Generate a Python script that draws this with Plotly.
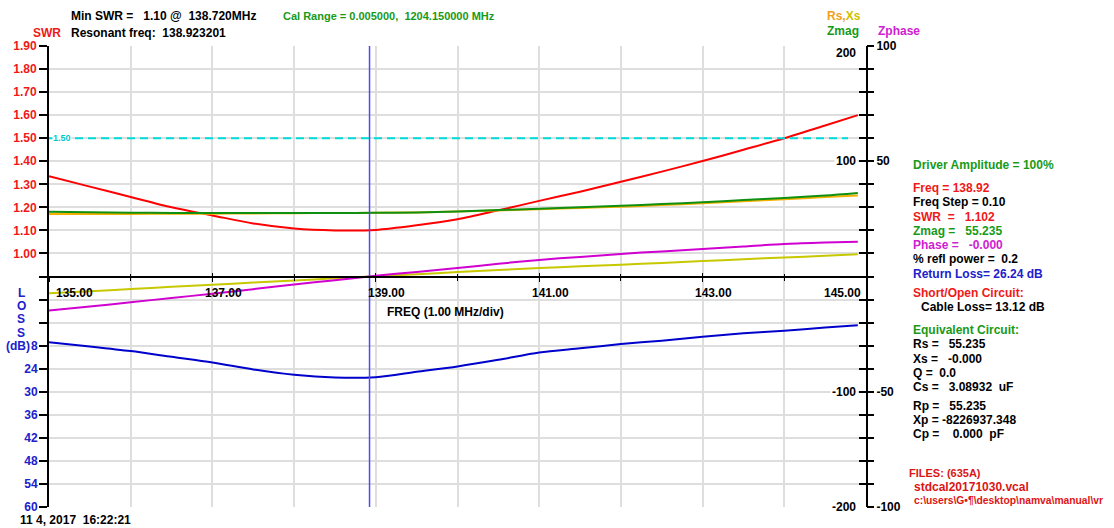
import plotly.graph_objects as go

# ---- sweep data (MHz) ----
FREQ = [135.0, 135.5, 136.0, 136.5, 137.0, 137.5, 138.0, 138.5, 139.0, 139.5, 140.0,
        140.5, 141.0, 141.5, 142.0, 142.5, 143.0, 143.5, 144.0, 144.5, 144.9]
SWR = [1.335, 1.290, 1.245, 1.200, 1.165, 1.130, 1.108, 1.100, 1.102, 1.122, 1.148,
       1.187, 1.228, 1.268, 1.311, 1.355, 1.401, 1.450, 1.500, 1.555, 1.600]
ZMAG = [56.2, 55.8, 55.4, 55.2, 55.0, 55.0, 55.0, 55.1, 55.3, 55.6, 56.5,
        57.6, 58.8, 60.0, 61.3, 62.8, 64.5, 66.3, 68.2, 70.3, 72.5]
RS = [54.2, 54.3, 54.3, 54.4, 54.5, 54.7, 54.9, 55.1, 55.3, 55.6, 56.3,
      57.3, 58.4, 59.5, 60.6, 62.0, 63.6, 65.3, 67.0, 68.9, 70.3]
XS = [-14.6, -12.8, -10.9, -9.0, -7.2, -5.3, -3.4, -1.6, 0.3, 2.0, 3.8,
      5.6, 7.3, 8.8, 10.2, 11.8, 13.4, 15.0, 16.5, 18.0, 19.3]
PHASE = [-14.8, -13.0, -11.2, -9.3, -7.5, -5.5, -3.5, -1.6, 0.3, 2.0, 3.7,
         5.5, 7.2, 8.5, 9.8, 10.9, 11.9, 13.0, 14.1, 14.7, 15.1]
RET_LOSS = [17.1, 18.2, 19.4, 20.9, 22.4, 24.2, 25.6, 26.3, 26.2, 24.8, 23.4,
            21.7, 19.8, 18.7, 17.6, 16.7, 15.7, 14.8, 14.1, 13.3, 12.7]

RES_FREQ = 138.923201
SWR_LIMIT = 1.50

# ---- axis scales and labels ----
FREQ_RANGE = [135.0, 145.0]
SWR_RANGE = [-0.1, 1.9]
LOSS_RANGE = [60, -60]
RX_RANGE = [-200, 200]
PHASE_RANGE = [-100, 100]
SWR_LABELS = [1.00, 1.10, 1.20, 1.30, 1.40, 1.50, 1.60, 1.70, 1.80, 1.90]
LOSS_TICKS = [18, 24, 30, 36, 42, 48, 54, 60]
LOSS_TICKTEXT = ["8", "24", "30", "36", "42", "48", "54", "60"]
FREQ_LABELS = [135, 137, 139, 141, 143, 145]
RX_LABELS = [200, 100, -100, -200]
PHASE_LABELS = [100, 50, -50, -100]

W, H = 1114, 528
L, R, T, B = 49, 866, 46, 507
FONT = "Liberation Sans, Arial, sans-serif"
GRID = "#dedede"
RED, GREEN, BLUE, MAGENTA = "#f01818", "#189a18", "#2020cc", "#d020d0"
NB = "\u00a0"


def px(x):
    return (x - L) / (R - L)


def py(y):
    return (B - y) / (B - T)


def fnt(color="black", size=12):
    return dict(family=FONT, size=size, color=color, weight="bold")


def note(x, y, text, color="black", size=12, xanchor="left"):
    return dict(xref="paper", yref="paper", x=px(x), y=py(y), text=text.replace("  ", NB + NB),
                showarrow=False, xanchor=xanchor, yanchor="middle", font=fnt(color, size),
                borderpad=0)


def curve(y, color, axis, name):
    return go.Scatter(x=FREQ, y=y, mode="lines", yaxis=axis, name=name,
                      line=dict(color=color, width=2, shape="spline", smoothing=0.8))


fig = go.Figure()
fig.add_trace(curve(SWR, "#ff0000", "y", "SWR"))
fig.add_trace(curve(RS, "#f5b000", "y3", "Rs"))
fig.add_trace(curve(ZMAG, "#109010", "y3", "Zmag"))
fig.add_trace(curve(XS, "#c8c800", "y3", "Xs"))
fig.add_trace(curve(PHASE, "#d000d0", "y4", "Zphase"))
fig.add_trace(curve(RET_LOSS, "#0000cc", "y2", "Return Loss"))
# resonant frequency marker
fig.add_trace(go.Scatter(x=[RES_FREQ, RES_FREQ], y=SWR_RANGE, mode="lines",
                         line=dict(color="#4a4aff", width=1.5), xaxis="x2", yaxis="y",
                         name="Resonant"))

swr_tickvals = [round(SWR_RANGE[0] + 0.1 * i, 2) for i in range(21)]
swr_ticktext = [f"{v:.2f}" if any(abs(v - s) < 1e-9 for s in SWR_LABELS) else "" for v in swr_tickvals]
phase_tickvals = [-100 + 10 * i for i in range(21)]

xcommon = dict(range=FREQ_RANGE, anchor="free", position=0.5, tick0=135, dtick=2,
               showticklabels=False, zeroline=False, tickcolor="black", tickwidth=1)

fig.update_layout(
    width=W, height=H, template="none", showlegend=False,
    paper_bgcolor="white", plot_bgcolor="white",
    margin=dict(l=L, r=W - R, t=T, b=H - B, pad=0),
    font=dict(family=FONT, size=12, color="black"),
    xaxis=dict(domain=[0, 1], showline=True, linecolor="black", linewidth=2,
               ticks="outside", ticklen=4,
               minor=dict(dtick=1, ticks="outside", ticklen=3, tickcolor="black", showgrid=True,
                          gridcolor=GRID, gridwidth=1.5),
               showgrid=True, gridcolor=GRID, gridwidth=1.5, **xcommon),
    xaxis2=dict(overlaying="x", showline=False, showgrid=False, ticks="inside", ticklen=4,
                minor=dict(dtick=1, ticks="inside", ticklen=3, tickcolor="black"),
                **xcommon),
    yaxis=dict(domain=[0, 1], range=SWR_RANGE, anchor="x", side="left",
               tickmode="array", tickvals=swr_tickvals, ticktext=swr_ticktext,
               ticks="outside", ticklen=8, tickwidth=2, tickcolor="black",
               showline=True, linecolor="black", linewidth=2,
               showgrid=True, gridcolor=GRID, gridwidth=1.5, zeroline=False,
               tickfont=fnt(RED)),
    yaxis2=dict(overlaying="y", range=LOSS_RANGE, anchor="x", side="left",
                tickmode="array", tickvals=LOSS_TICKS, ticktext=LOSS_TICKTEXT,
                ticks="outside", ticklen=8, tickcolor="rgba(0,0,0,0)",
                showline=False, showgrid=False, zeroline=False, tickfont=fnt(BLUE)),
    yaxis3=dict(overlaying="y", range=RX_RANGE, anchor="x", side="right",
                tickmode="linear", tick0=-200, dtick=20,
                ticks="inside", ticklen=7, tickwidth=2, tickcolor="black",
                showticklabels=False, showline=True, linecolor="black", linewidth=2,
                showgrid=False, zeroline=False),
    yaxis4=dict(overlaying="y", range=PHASE_RANGE, anchor="x", side="right",
                tickmode="array", tickvals=phase_tickvals,
                ticktext=[str(v) if v in PHASE_LABELS else "" for v in phase_tickvals],
                ticks="outside", ticklen=7, tickwidth=2, tickcolor="black",
                showline=False, showgrid=False, zeroline=False, tickfont=fnt()),
)

# SWR limit line
fig.add_shape(type="line", xref="paper", yref="y", x0=0, x1=px(848), y0=SWR_LIMIT, y1=SWR_LIMIT,
              line=dict(color="#00dcdc", width=2, dash="8px,5px"))

ann = []
ann.append(dict(xref="paper", yref="y", x=px(52), y=SWR_LIMIT, text=f"{SWR_LIMIT:.2f}",
                showarrow=False, xanchor="left", yanchor="middle", font=fnt("#00c8d0", 9),
                bgcolor="white", borderpad=0))

# frequency labels along the centre axis
for f in FREQ_LABELS:
    shift = 25 if f == FREQ_LABELS[0] else (-24 if f == FREQ_LABELS[-1] else 11)
    ann.append(dict(xref="x", yref="paper", x=f, y=py(293), text=f"{f:.2f}", showarrow=False,
                    xanchor="center", yanchor="middle", xshift=shift, font=fnt()))

# inner labels of the Rs/Xs/Zmag scale
for v in RX_LABELS:
    ann.append(dict(xref="paper", yref="y3", x=1, y=v, text=str(v), showarrow=False,
                    xanchor="right", yanchor="middle", xshift=-8,
                    yshift=-7 if v == RX_RANGE[1] else 0,
                    font=fnt(), bgcolor="white", borderpad=1))

ann += [
    note(70, 16, "Min SWR =   1.10 @  138.720MHz"),
    note(282, 16, "Cal Range = 0.005000,  1204.150000 MHz", GREEN, 11),
    note(32, 33, "SWR", RED),
    note(70, 33, "Resonant freq:  138.923201"),
    note(826, 16, '<span style="color:#f0a020">Rs,</span><span style="color:#d0c000">Xs</span>'),
    note(826, 31, "Zmag", GREEN),
    note(877, 31, "Zphase", MAGENTA),
    note(386, 312, "FREQ (1.00 MHz/div)"),
    note(19, 520, "11 4, 2017  16:22:21"),
]

for i, ch in enumerate("LOSS"):
    ann.append(note(21, [293, 306, 319, 333][i], ch, BLUE, xanchor="center"))
ann.append(note(5, 346, "(dB)", BLUE))

panel = [
    (912, 165, "Driver Amplitude = 100%", GREEN, 12),
    (912, 188, "Freq = 138.92", RED, 12),
    (912, 202, "Freq Step = 0.10", "black", 12),
    (912, 217, "SWR  =   1.102", RED, 12),
    (912, 231, "Zmag =   55.235", GREEN, 12),
    (912, 245, "Phase =   -0.000", MAGENTA, 12),
    (912, 259, "% refl power =  0.2", "black", 12),
    (912, 274, "Return Loss= 26.24 dB", BLUE, 12),
    (912, 293, "Short/Open Circuit:", RED, 12),
    (920, 307, "Cable Loss= 13.12 dB", "black", 12),
    (912, 330, "Equivalent Circuit:", GREEN, 12),
    (912, 344, "Rs =   55.235", "black", 12),
    (912, 359, "Xs =   -0.000", "black", 12),
    (912, 373, "Q =  0.0", "black", 12),
    (912, 387, "Cs =   3.08932  uF", "black", 12),
    (912, 406, "Rp =   55.235", "black", 12),
    (912, 420, "Xp = -8226937.348", "black", 12),
    (912, 434, "Cp =    0.000  pF", "black", 12),
    (908, 473, "FILES: (635A)", "#dd1515", 11),
    (913, 487, "stdcal20171030.vcal", "#dd1515", 12),
    (913, 500, "c:\\users\\G\u2022\u00b6\\desktop\\namva\\manual\\vr", "#dd1515", 10.3),
]
for x, y, t, c, s in panel:
    ann.append(note(x, y, t, c, s))

fig.update_layout(annotations=ann)
fig.write_html("out.html")
